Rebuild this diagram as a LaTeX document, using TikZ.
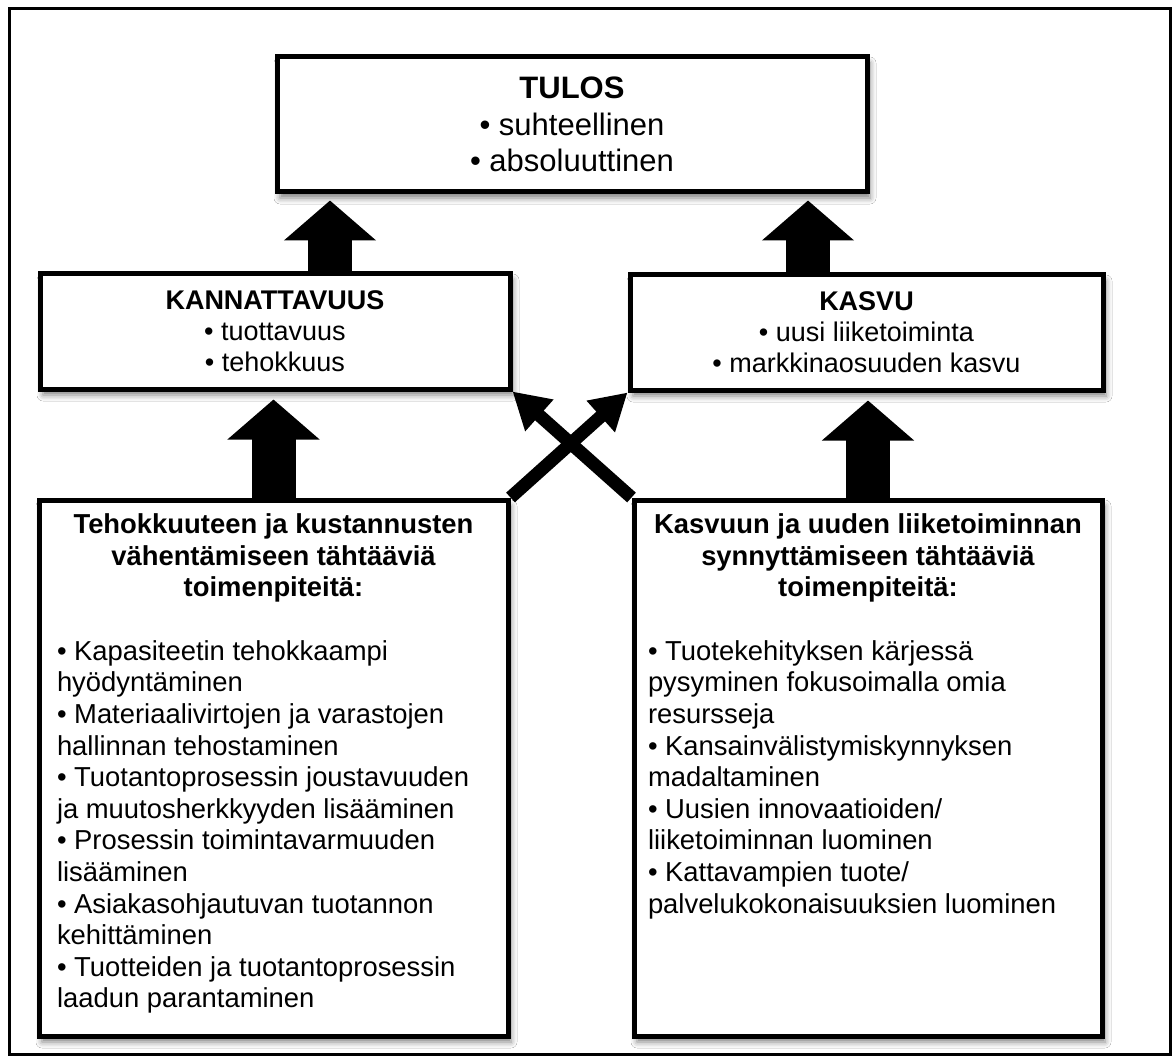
\documentclass[tikz,border=0pt]{standalone}
\usepackage{fontspec}
\setmainfont{Liberation Sans}
\usetikzlibrary{arrows.meta,shadows.blur,calc}

\tikzset{
  panel/.style={draw=black, line width=5pt, fill=white, inner sep=0pt,
    blur shadow={shadow xshift=3pt, shadow yshift=-6pt,
                 shadow blur radius=6pt, shadow opacity=50}},
  fatarrow/.style={draw=black, line width=44pt,
    -{Triangle[length=40pt,width=90pt]}, shorten >=6pt},
  slimarrow/.style={draw=black, line width=13pt,
    -{Triangle[length=36pt,width=40pt]}},
  topfont/.style={font=\fontsize{31}{36.5}\selectfont},
  midfont/.style={font=\fontsize{27}{31}\selectfont},
  listfont/.style={font=\fontsize{27.4}{31.6}\selectfont},
  plain/.style={inner sep=0pt, outer sep=0pt}
}

\begin{document}
\begin{tikzpicture}[x=1pt,y=-1pt]
  % page and outer frame
  \useasboundingbox (0,0) rectangle (1175,1059);
  \fill[white] (0,0) rectangle (1175,1059);
  \draw[line width=3pt] (9,9) rectangle (1170,1054);

  % result box
  \node[panel, topfont, align=center, minimum width=590pt, minimum height=135pt]
    (tulos) at (572,124.5)
    {{\bfseries TULOS}\\• suhteellinen\\• absoluuttinen};

  % profitability and growth
  \node[panel, midfont, align=center, minimum width=470pt, minimum height=115pt]
    (kan) at (275,331.5)
    {{\bfseries KANNATTAVUUS}\\• tuottavuus\\• tehokkuus};
  \node[panel, midfont, align=center, minimum width=473pt, minimum height=115pt]
    (kas) at (866.5,332.5)
    {{\bfseries KASVU}\\• uusi liiketoiminta\\• markkinaosuuden kasvu};

  % measure boxes
  \node[panel, minimum width=469pt, minimum height=536pt] (bl) at (273.5,768) {};
  \node[panel, minimum width=468pt, minimum height=536pt] (br) at (868,768) {};

  \node[plain, listfont, anchor=north, align=center] (blhead) at (273.5,513.7)
    {\bfseries Tehokkuuteen ja kustannusten\\\bfseries vähentämiseen tähtääviä\\\bfseries toimenpiteitä:};
  \node[plain, listfont, anchor=north west, align=left] (blbody) at (57,640.5)
    {• Kapasiteetin tehokkaampi\\
     hyödyntäminen\\
     • Materiaalivirtojen ja varastojen\\
     hallinnan tehostaminen\\
     • Tuotantoprosessin joustavuuden\\
     ja muutosherkkyyden lisääminen\\
     • Prosessin toimintavarmuuden\\
     lisääminen\\
     • Asiakasohjautuvan tuotannon\\
     kehittäminen\\
     • Tuotteiden ja tuotantoprosessin\\
     laadun parantaminen};

  \node[plain, listfont, anchor=north, align=center] (brhead) at (868,513.7)
    {\bfseries Kasvuun ja uuden liiketoiminnan\\\bfseries synnyttämiseen tähtääviä\\\bfseries toimenpiteitä:};
  \node[plain, listfont, anchor=north west, align=left] (brbody) at (648,640.5)
    {• Tuotekehityksen kärjessä\\
     pysyminen fokusoimalla omia\\
     resursseja\\
     • Kansainvälistymiskynnyksen\\
     madaltaminen\\
     • Uusien innovaatioiden/\\
     liiketoiminnan luominen\\
     • Kattavampien tuote/\\
     palvelukokonaisuuksien luominen};

  % thick arrows into the result
  \coordinate (kanup) at ([xshift=55pt]kan.north);
  \coordinate (kasup) at ([xshift=-58.5pt]kas.north);
  \draw[fatarrow] (kanup) -- (kanup |- tulos.south);
  \draw[fatarrow] (kasup) -- (kasup |- tulos.south);

  % thick arrows from the measures
  \draw[fatarrow, shorten >=8pt] (bl.north) -- (bl.north |- kan.south);
  \draw[fatarrow, shorten >=8pt] (br.north) -- (br.north |- kas.south);

  % crossing arrows
  \draw[slimarrow] (bl.north east) -- (kas.south west);
  \draw[slimarrow] (br.north west) -- (kan.south east);
\end{tikzpicture}
\end{document}
